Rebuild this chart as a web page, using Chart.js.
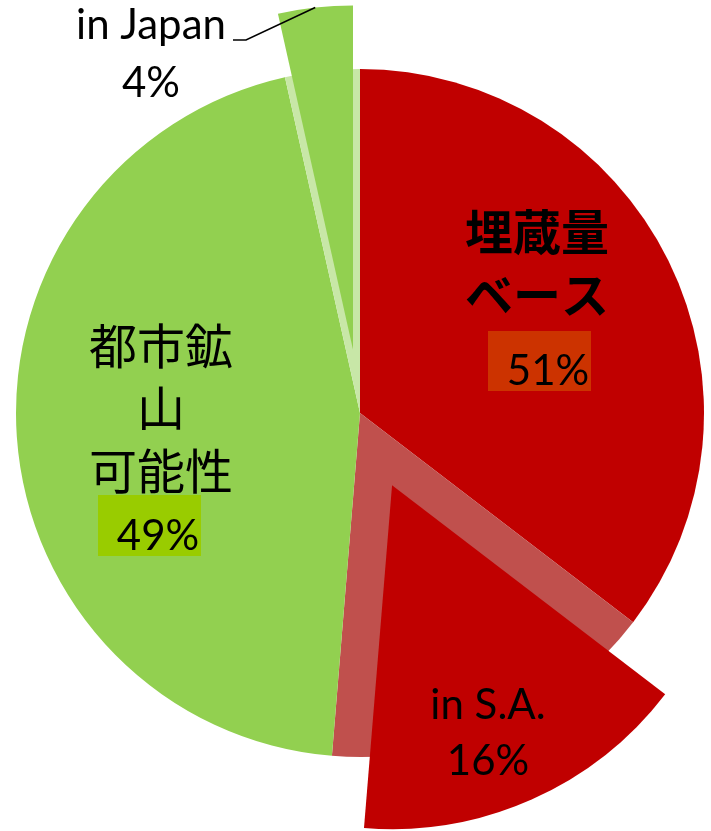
<!DOCTYPE html>
<html><head><meta charset="utf-8">
<script src="https://cdn.jsdelivr.net/npm/chart.js@4"></script>
<style>
html,body{margin:0;padding:0;background:#fff;}
#wrap{position:relative;width:711px;height:831px;overflow:hidden;}
#wrap canvas{position:absolute;left:0;top:0;}
</style></head><body>
<div id="wrap">
<canvas id="base" width="711" height="831"></canvas>
<canvas id="sa" width="711" height="831"></canvas>
<canvas id="jp" width="711" height="831"></canvas>
</div>
<script>
// ---- data (shares in %) ----
const groupNames = ['埋蔵量ベース', '都市鉱山可能性'];
const groupShares = [51.3, 48.7];
const subNames = ['in S.A.', 'in Japan'];
const subShares = [15.9, 3.5];

// pie slices: [rest of 埋蔵量, in S.A., rest of 都市鉱山, in Japan]
const sliceLabels = [groupNames[0], subNames[0], groupNames[1], subNames[1]];
const sliceValues = [groupShares[0] - subShares[0], subShares[0], groupShares[1] - subShares[1], subShares[1]];

const RED = '#C00000', PINK = '#C0504D', GREEN = '#92D050', PALE = '#C8E7A7', NONE = 'rgba(0,0,0,0)';
const EXPLODE_SA = 79, EXPLODE_JP = 64;
const LATIN = '"Lato", "Liberation Sans", sans-serif';
const CJK = '"Noto Sans CJK JP", sans-serif';

function explodePlugin(index, dist) {
  return {
    id: 'explode' + index,
    beforeDatasetsDraw(chart) {
      const arc = chart.getDatasetMeta(0).data[index];
      const mid = (arc.startAngle + arc.endAngle) / 2;
      chart.ctx.save();
      chart.ctx.translate(Math.cos(mid) * dist, Math.sin(mid) * dist);
    },
    afterDatasetsDraw(chart) { chart.ctx.restore(); }
  };
}

function pct(v) { return Math.round(v) + '%'; }

const labelPlugin = {
  id: 'labels',
  afterDraw(chart) {
    const ctx = chart.ctx;
    const arcs = chart.getDatasetMeta(0).data;
    const cx = arcs[0].x, cy = arcs[0].y;
    ctx.save();
    ctx.fillStyle = '#000';
    ctx.textAlign = 'center';
    ctx.textBaseline = 'alphabetic';

    // 埋蔵量ベース
    ctx.font = 'bold 48px ' + CJK;
    ctx.fillText('埋蔵量', cx + 177, cy - 163);
    ctx.fillText('ベース', cx + 177, cy - 100);
    ctx.fillStyle = '#CC3300';
    ctx.fillRect(cx + 128, cy - 82, 103, 60);
    ctx.fillStyle = '#000';
    ctx.font = '42px ' + LATIN;
    ctx.fillText(pct(groupShares[0]), cx + 188, cy - 28);

    // 都市鉱山可能性
    ctx.font = '48px ' + CJK;
    ctx.fillText('都市鉱', cx - 199, cy - 49);
    ctx.fillText('山', cx - 199, cy + 13);
    ctx.fillText('可能性', cx - 199, cy + 76);
    ctx.fillStyle = '#99CC00';
    ctx.fillRect(cx - 262, cy + 82, 103, 61);
    ctx.fillStyle = '#000';
    ctx.font = '42px ' + LATIN;
    ctx.fillText(pct(groupShares[1]), cx - 202, cy + 137);

    // in S.A.
    ctx.fillText(subNames[0], cx + 128, cy + 306);
    ctx.fillText(pct(subShares[0]), cx + 128, cy + 362);

    // in Japan
    ctx.fillText(subNames[1], cx - 209, cy - 374);
    ctx.fillText(pct(subShares[1]), cx - 209, cy - 316);

    // leader line to exploded Japan slice
    const jp = arcs[3];
    const mid = (jp.startAngle + jp.endAngle) / 2;
    const ex = cx + Math.cos(mid) * (EXPLODE_JP + jp.outerRadius);
    const ey = cy + Math.sin(mid) * (EXPLODE_JP + jp.outerRadius);
    ctx.strokeStyle = '#000';
    ctx.lineWidth = 1.5;
    ctx.beginPath();
    ctx.moveTo(cx - 127, cy - 373);
    ctx.lineTo(cx - 114, cy - 373);
    ctx.lineTo(ex, ey);
    ctx.stroke();
    ctx.restore();
  }
};

function makeChart(id, colors, plugins) {
  return new Chart(document.getElementById(id), {
    type: 'pie',
    data: {
      labels: sliceLabels,
      datasets: [{ data: sliceValues, backgroundColor: colors, borderWidth: 0, clip: false }]
    },
    options: {
      responsive: false,
      animation: false,
      radius: 344,
      layout: { padding: { left: 9, right: 0, top: 0, bottom: 5 } },
      plugins: { legend: { display: false }, tooltip: { enabled: false } },
      events: []
    },
    plugins: plugins
  });
}

makeChart('base', [RED, PINK, GREEN, PALE], []);
makeChart('sa', [NONE, RED, NONE, NONE], [explodePlugin(1, EXPLODE_SA)]);
makeChart('jp', [NONE, NONE, NONE, GREEN], [explodePlugin(3, EXPLODE_JP), labelPlugin]);
</script>
</body></html>
